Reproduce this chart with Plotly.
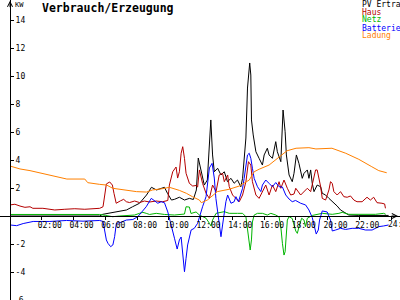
import plotly.graph_objects as go

# ---------------- data (hours, kW) ----------------
PV_T = [0, 5.65, 5.84, 6.59, 7.34, 7.72, 8.16, 8.6, 8.91, 9.23, 9.54, 9.73, 9.92, 10.17, 10.36, 10.67, 10.99, 11.3, 11.55, 11.74,
        11.86, 12.05, 12.24, 12.43, 12.65, 12.76, 12.87, 13.08, 13.29, 13.5, 13.7, 13.92, 14.12, 14.33, 14.54, 14.65, 14.75, 14.86, 14.96, 15.1,
        15.17, 15.21, 15.32, 15.49, 15.69, 15.9, 16.01, 16.21, 16.32, 16.53, 16.74, 16.84, 17.06, 17.2, 17.33, 17.41, 17.58, 17.78, 17.89, 18.04,
        18.2, 18.41, 18.52, 18.73, 18.83, 18.94, 19.04, 19.15, 19.35, 19.57, 19.67, 19.88, 20.09, 20.4, 20.61, 20.82, 21.14, 21.34, 21.97, 23.85]
PV_V = [0, 0, 0.12, 0.26, 0.43, 0.66, 0.91, 1.5, 2.05, 1.86, 1.98, 2.05, 1.62, 1.14, 1.19, 1.34, 1.14, 1.26, 1.18, 1.86,
        4.14, 3.07, 2.21, 2.57, 6.86, 4.36, 3.16, 3.41, 2.93, 3.16, 2.45, 2.69, 2.34, 2.57, 2.09, 2.69, 4.36, 5.57, 9.14, 10.93,
        10.07, 6.86, 5.79, 4.59, 4.12, 3.64, 4.36, 4.84, 4.36, 4.12, 5.31, 4.59, 3.88, 7.57, 6.02, 4.36, 2.93, 2.45, 3.05, 4.36,
        3.76, 2.69, 3.05, 3.29, 2.69, 3.29, 2.33, 1.74, 2.21, 2.09, 1.62, 1.5, 1.26, 0.95, 0.71, 0.43, 0.19, 0.07, 0.04, 0.04]

HAUS_T = [0, 0.31, 0.63, 0.94, 1.26, 1.44, 2.07, 2.51, 2.82, 3.45, 4.08, 4.71, 5.34, 5.65, 5.86, 5.96, 6.07, 6.28, 6.45, 6.55,
          6.69, 6.97, 7.16, 7.33, 7.53, 7.85, 8.16, 8.47, 8.79, 9.21, 9.62, 9.94, 10.04, 10.25, 10.46, 10.56, 10.67, 10.78, 10.88, 10.99,
          11.09, 11.3, 11.51, 11.72, 11.82, 11.93, 12.13, 12.35, 12.56, 12.76, 12.98, 13.18, 13.39, 13.5, 13.71, 13.81, 14.02, 14.23, 14.44, 14.65,
          14.86, 15.02, 15.17, 15.27, 15.49, 15.69, 15.9, 16.11, 16.32, 16.53, 16.74, 16.95, 17.06, 17.26, 17.47, 17.68, 17.89, 18.0, 18.31, 18.52,
          18.73, 18.94, 19.04, 19.25, 19.35, 19.57, 19.67, 19.88, 20.09, 20.19, 20.3, 20.4, 20.61, 20.82, 21.03, 21.24, 21.45, 21.66, 21.86, 22.18,
          22.49, 22.7, 22.91, 23.12, 23.43, 23.6, 23.65]
HAUS_V = [0.79, 0.84, 0.71, 0.62, 0.66, 0.55, 0.55, 0.48, 0.43, 0.48, 0.52, 0.48, 0.52, 0.55, 0.66, 1.62, 2.29, 2.43, 2.21, 1.62,
          0.91, 1.09, 1.19, 1.02, 0.96, 1.07, 0.96, 1.07, 1.0, 1.07, 1.02, 1.11, 2.21, 3.16, 3.5, 2.71, 3.16, 4.48, 4.95, 4.12,
          3.05, 2.33, 2.14, 2.18, 2.07, 3.29, 2.33, 1.62, 1.26, 2.21, 1.74, 2.93, 3.05, 2.45, 2.93, 2.1, 1.5, 1.26, 1.02, 1.5,
          2.45, 3.88, 3.64, 2.45, 1.5, 1.26, 1.74, 2.21, 1.5, 2.21, 1.74, 2.45, 1.98, 2.57, 1.98, 1.5, 1.57, 1.98, 1.5, 1.74,
          1.98, 1.74, 2.21, 3.29, 3.29, 2.09, 1.26, 1.14, 1.86, 2.45, 2.33, 1.74, 1.5, 1.74, 1.38, 1.34, 1.43, 1.14, 1.02, 1.02,
          1.34, 1.14, 1.34, 0.95, 0.91, 0.86, 0.55]

NETZ_T = [0, 5.65, 6.03, 6.47, 6.91, 7.85, 8.16, 8.37, 8.58, 8.79, 9.21, 9.73, 10.36, 10.99, 11.09, 11.3, 11.4, 11.72, 11.93, 12.35,
          12.56, 12.66, 12.76, 12.98, 13.5, 13.81, 14.33, 14.65, 14.86, 14.96, 15.07, 15.13, 15.21, 15.27, 15.38, 15.59, 15.9, 16.21, 16.43, 16.74,
          16.95, 17.06, 17.16, 17.26, 17.33, 17.41, 17.47, 17.58, 17.78, 18.0, 18.1, 18.2, 18.37, 18.52, 18.61, 18.73, 19.04, 19.67, 20.3, 20.72,
          20.93, 21.34, 23.02, 23.54, 23.67]
NETZ_V = [0.11, 0.11, 0.04, -0.05, 0.0, 0.07, 0.19, 0.26, 0.19, 0.11, 0.19, 0.11, 0.07, 0.14, 0.66, 0.64, 0.18, 0.29, 0.07, -0.16,
          -0.52, -0.71, -0.29, 0.19, 0.31, 0.19, 0.19, 0.19, -0.05, -1.0, -2.19, -2.43, -1.71, -0.43, 0.07, 0.19, 0.19, 0.07, 0.19, 0.07,
          -0.07, -0.79, -1.95, -2.79, -2.55, -1.24, -0.29, -0.05, -0.18, -1.07, -1.24, -0.79, -0.16, -0.29, -0.76, -0.16, 0.04, 0.19, 0.12, 0.19,
          0.26, 0.12, 0.12, 0.19, 0.12]

BATT_T = [0, 0.42, 0.83, 1.46, 2.51, 3.56, 4.6, 5.65, 5.86, 5.96, 6.07, 6.17, 6.34, 6.48, 6.59, 6.7, 6.91, 7.33, 7.74, 8.05,
          8.27, 8.58, 8.9, 9.1, 9.31, 9.52, 9.73, 9.94, 10.15, 10.36, 10.53, 10.67, 10.78, 10.88, 10.99, 11.09, 11.19, 11.41, 11.61, 11.82,
          11.93, 12.13, 12.35, 12.56, 12.73, 12.87, 12.97, 13.08, 13.18, 13.29, 13.39, 13.5, 13.6, 13.71, 13.81, 13.92, 14.12, 14.23, 14.39, 14.54,
          14.65, 14.75, 14.86, 14.96, 15.07, 15.17, 15.27, 15.38, 15.59, 15.8, 15.9, 16.11, 16.32, 16.53, 16.74, 16.95, 17.16, 17.37, 17.58, 17.78,
          17.99, 18.31, 18.62, 18.83, 19.04, 19.21, 19.29, 19.42, 19.5, 19.67, 19.98, 20.19, 20.3, 20.51, 20.82, 21.14, 21.55, 21.97, 22.39, 22.81,
          23.23, 23.54, 23.85]
BATT_V = [-0.64, -0.69, -0.54, -0.39, -0.39, -0.32, -0.37, -0.32, -0.39, -1.0, -1.71, -1.95, -2.19, -2.07, -1.48, -0.52, -0.48, -0.29, -0.25, -0.05,
          0.24, 0.66, 1.26, 1.09, 0.91, 1.02, 0.95, 0.29, -0.76, -1.59, -2.36, -1.71, -1.5, -2.91, -3.98, -3.02, -2.07, -1.0, -0.88, -0.52,
          -0.05, 0.66, 1.38, 3.43, 3.76, 2.71, 1.26, 0.31, -0.41, -1.48, -0.64, 0.31, 1.02, 1.5, 1.26, 0.91, 1.02, 1.38, 1.02, 1.5,
          1.98, 2.69, 3.41, 4.36, 4.48, 4.12, 3.41, 2.69, 2.09, 1.74, 2.21, 2.57, 2.33, 2.09, 2.39, 2.09, 2.07, 1.5, 1.21, 1.02,
          1.11, 0.91, 0.79, 0.43, -0.11, -0.79, -1.29, -1.0, -0.29, 0.36, 0.29, -0.29, -1.07, -1.0, -0.88, -0.96, -0.88, -0.88, -1.0, -1.0,
          -0.76, -0.71, -0.64]

LADUNG_T = [0, 0.63, 1.26, 1.88, 2.51, 3.14, 3.58, 4.71, 4.9, 5.65, 6.09, 6.47, 7.09, 7.97, 8.6, 8.98, 9.6, 10.04, 10.67, 11.11,
            11.49, 11.93, 12.05, 12.43, 13.06, 13.81, 14.44, 15.07, 15.38, 15.69, 16.32, 16.95, 17.45, 18.02, 18.83, 19.27, 20.28, 21.15, 21.97, 22.79,
            23.23, 23.73]
LADUNG_V = [3.57, 3.36, 3.24, 3.09, 2.91, 2.76, 2.64, 2.64, 2.38, 2.26, 2.21, 1.98, 1.86, 1.74, 1.71, 1.86, 1.95, 2.05, 1.83, 1.62,
            1.38, 1.14, 0.95, 1.14, 1.74, 1.91, 2.14, 2.57, 3.16, 3.34, 3.64, 4.19, 4.66, 4.84, 4.88, 4.79, 4.84, 4.48, 4.05, 3.52,
            3.24, 3.09]

SERIES_NAMES = ["PV Ertrag", "Haus", "Netz", "Batterie", "Ladung"]
COLORS = ["#000000", "#b40000", "#00b400", "#0000ff", "#ff8000"]
X_TICKS = [2, 4, 6, 8, 10, 12, 14, 16, 18, 20, 22, 24]
X_TICK_LABELS = ["02:00", "04:00", "06:00", "08:00", "10:00", "12:00", "14:00", "16:00", "18:00", "20:00", "22:00", "24:00"]
Y_TICKS = [-6, -4, -2, 2, 4, 6, 8, 10, 12, 14]
TITLE = "Verbrauch/Erzeugung"
UNIT = "KW"

series = [(PV_T, PV_V), (HAUS_T, HAUS_V), (NETZ_T, NETZ_V), (BATT_T, BATT_V), (LADUNG_T, LADUNG_V)]
for t, v in series:
    assert len(t) == len(v)

W, H = 400, 300
X0_PX, PX_PER_H = 10, 15.875
Y0_PX, PX_PER_KW = 216, 14.0
mono = "DejaVu Sans Mono"
tick_font = dict(family=mono, size=8, color="black")

fig = go.Figure()
for (t, v), name, col in zip(series, SERIES_NAMES, COLORS):
    fig.add_trace(go.Scatter(x=t, y=v, mode="lines", name=name,
                             line=dict(color=col, width=1), hoverinfo="skip"))

# tick labels that sit partly outside the page are placed as axis-referenced labels
# (plotly would otherwise drop them); the others come straight from the axes.
edge_x = {24}
edge_y = {-6}
x_text = ["" if v in edge_x else lab for v, lab in zip(X_TICKS, X_TICK_LABELS)]
y_text = ["" if v in edge_y else str(v) for v in Y_TICKS]

fig.update_layout(
    width=W, height=H, margin=dict(l=0, r=0, t=0, b=0),
    paper_bgcolor="white", plot_bgcolor="white", showlegend=False,
    xaxis=dict(range=[-X0_PX / PX_PER_H, (W - X0_PX) / PX_PER_H], domain=[0, 1],
               anchor="free", position=(H - Y0_PX) / H,
               showgrid=False, zeroline=False, showline=True, linecolor="black", linewidth=1,
               ticks="outside", ticklen=3, tickcolor="black", tickwidth=1,
               tickvals=X_TICKS, ticktext=x_text, ticklabelshift=8, ticklabelstandoff=-2,
               tickfont=tick_font),
    yaxis=dict(range=[-(H - Y0_PX) / PX_PER_KW, Y0_PX / PX_PER_KW], domain=[0, 1],
               anchor="free", position=X0_PX / W, side="right",
               showgrid=False, zeroline=False, showline=True, linecolor="black", linewidth=1,
               ticks="outside", ticklen=3, tickcolor="black", tickwidth=1,
               tickvals=Y_TICKS, ticktext=y_text, tickfont=tick_font),
)

annotations = [
    dict(x=40 / W, y=1 - 7.5 / H, xref="paper", yref="paper", xanchor="left", yanchor="middle",
         text="<b>" + TITLE + "</b>", showarrow=False, font=dict(family=mono, size=11.5, color="black")),
    dict(x=13 / W, y=1 - 5 / H, xref="paper", yref="paper", xanchor="left", yanchor="middle",
         text=UNIT, showarrow=False, font=dict(family=mono, size=7, color="black")),
    # axis arrow heads
    dict(x=0, y=Y0_PX / PX_PER_KW - 0.05, xref="x", yref="y", ax=0, ay=8, text="",
         showarrow=True, arrowhead=5, arrowsize=1, arrowwidth=1, arrowcolor="black"),
    dict(x=(398 - X0_PX) / PX_PER_H, y=0, xref="x", yref="y", ax=-8, ay=0, text="",
         showarrow=True, arrowhead=5, arrowsize=1, arrowwidth=1, arrowcolor="black"),
]
for v, lab in zip(X_TICKS, X_TICK_LABELS):
    if v in edge_x:
        annotations.append(dict(x=v, y=0, xref="x", yref="y", xanchor="left", yanchor="middle",
                                xshift=-5, yshift=-8, text=lab, showarrow=False, font=tick_font))
for v in Y_TICKS:
    if v in edge_y:
        annotations.append(dict(x=0, y=v, xref="x", yref="y", xanchor="left", yanchor="middle",
                                xshift=2, text=str(v), showarrow=False, font=tick_font))

legend_y = [4.5, 12, 20, 28, 35.5]
for name, col, ly in zip(SERIES_NAMES, COLORS, legend_y):
    annotations.append(dict(x=360 / W, y=1 - ly / H, xref="paper", yref="paper",
                            xanchor="left", yanchor="middle", text=name, showarrow=False,
                            font=dict(family=mono, size=8, color=col)))
fig.update_layout(annotations=annotations)

fig.write_html("out.html")
